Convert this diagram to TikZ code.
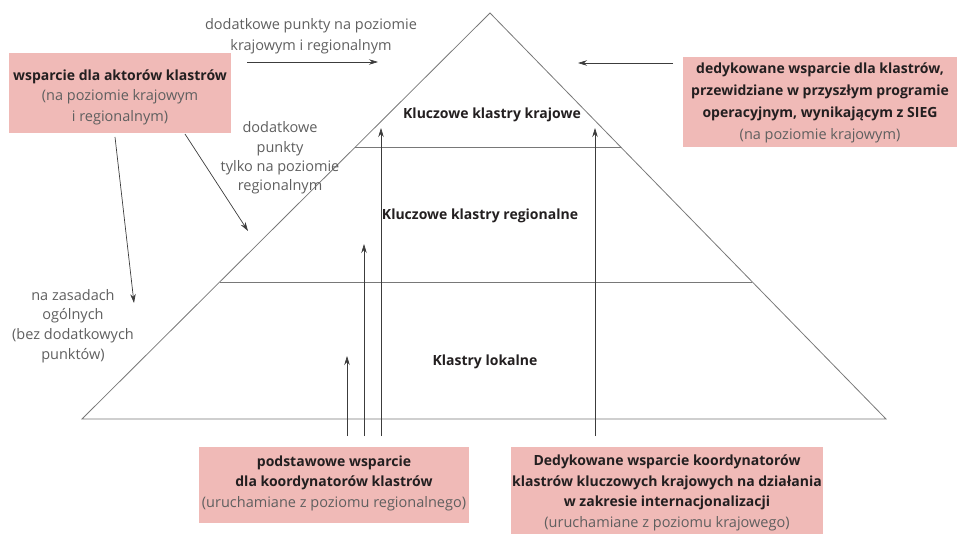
\documentclass[tikz,border=0pt]{standalone}
\usepackage{fontspec}
\setmainfont{Open Sans}
\usetikzlibrary{arrows.meta}
\definecolor{boxpink}{RGB}{240,186,183}
\definecolor{txtgray}{RGB}{95,95,95}
\definecolor{txtdark}{RGB}{35,31,32}
\definecolor{linegray}{RGB}{120,120,120}
\definecolor{arrgray}{RGB}{60,60,60}
\newcommand{\lblfont}{\fontsize{14.5}{20.5}\selectfont}
\newcommand{\bfnt}{\fontsize{14}{20.5}\selectfont\bfseries}
\begin{document}
\begin{tikzpicture}[x=1pt,y={(0pt,-1pt)},
  pbox/.style={fill=boxpink, inner sep=0pt, align=center, font=\lblfont, text=txtdark},
  btext/.style={align=center, font=\lblfont, text=txtdark, inner sep=0pt},
  gtext/.style={text=txtgray, align=center, font=\lblfont, inner sep=0pt},
  ltext/.style={text=txtdark, font=\bfnt, inner sep=0pt},
  arr/.style={-{Stealth[length=9pt,width=5.5pt]}, draw=arrgray, line width=0.7pt},
  pyr/.style={draw=linegray, line width=0.8pt}]
\useasboundingbox (0,0) rectangle (961,534);
% pyramid
\coordinate (apex) at (490,13);
\coordinate (bl) at (82,419);
\coordinate (br) at (886,419);
\coordinate (l1a) at (355,147);
\coordinate (l1b) at (621,147);
\coordinate (l2a) at (220,282);
\coordinate (l2b) at (752,282);
\draw[pyr] (apex) -- (bl) -- (br) -- cycle;
\draw[pyr] (l1a) -- (l1b);
\draw[pyr] (l2a) -- (l2b);
% level labels
\node[ltext] (kk) at (492,115) {Kluczowe klastry krajowe};
\node[ltext] (kr) at (480,216) {Kluczowe klastry regionalne};
\node[ltext] (kl) at (485,362) {Klastry lokalne};
% boxes
\node[pbox, minimum width=222pt, minimum height=80pt] (lb) at (120,93) {};
\node[btext] (lbt) at (120,97)
  {{\bfnt wsparcie dla aktorów klastrów}\\ \textcolor{txtgray}{(na poziomie krajowym}\\ \textcolor{txtgray}{i regionalnym)}};
\node[pbox, minimum width=274pt, minimum height=90pt] (rb) at (820,102) {};
\node[btext, font=\fontsize{14.5}{22}\selectfont] (rbt) at (820,103)
  {{\bfnt dedykowane wsparcie dla klastrów,}\\ {\bfnt przewidziane w przyszłym programie}\\ {\bfnt operacyjnym, wynikającym z SIEG}\\ \textcolor{txtgray}{(na poziomie krajowym)}};
\node[pbox, minimum width=270pt, minimum height=76pt] (bb1) at (334,485) {};
\node[btext] (bb1t) at (334,483)
  {{\bfnt podstawowe wsparcie}\\ {\bfnt dla koordynatorów klastrów}\\ \textcolor{txtgray}{(uruchamiane z poziomu regionalnego)}};
\node[pbox, minimum width=312pt, minimum height=87pt] (bb2) at (667,490.5) {};
\node[btext] (bb2t) at (667,493)
  {{\bfnt Dedykowane wsparcie koordynatorów}\\ {\bfnt klastrów kluczowych krajowych na działania}\\ {\bfnt w zakresie internacjonalizacji}\\ \textcolor{txtgray}{(uruchamiane z poziomu krajowego)}};
% free texts
\node[gtext] (t1) at (311,36) {dodatkowe punkty na poziomie\\ krajowym i regionalnym};
\node[gtext, font=\fontsize{14.5}{19.3}\selectfont] (t2) at (280,158) {dodatkowe\\ punkty\\ tylko na poziomie\\ regionalnym};
\node[gtext, font=\fontsize{14.5}{19.7}\selectfont] (t3) at (73,326) {na zasadach\\ ogólnych\\ (bez dodatkowych\\ punktów)};
% arrow coordinates
\coordinate (a1s) at (247,62);
\coordinate (a1e) at (378,62);
\coordinate (a2s) at (673,63);
\coordinate (a2e) at (578,63);
\coordinate (a3s) at (185,134);
\coordinate (a3e) at (248,231);
\coordinate (a4s) at (115,137);
\coordinate (a4e) at (134,303);
\coordinate (v1s) at (347,436);
\coordinate (v1e) at (347,356);
\coordinate (v2s) at (364,436);
\coordinate (v2e) at (364,244);
\coordinate (v3s) at (381,436);
\coordinate (v3e) at (381,128);
\coordinate (v4s) at (595,436);
\coordinate (v4e) at (595,128);
\draw[arr] (a1s) -- (a1e);
\draw[arr] (a2s) -- (a2e);
\draw[arr] (a3s) -- (a3e);
\draw[arr] (a4s) -- (a4e);
\draw[arr] (v1s) -- (v1e);
\draw[arr] (v2s) -- (v2e);
\draw[arr] (v3s) -- (v3e);
\draw[arr] (v4s) -- (v4e);
\end{tikzpicture}
\end{document}
